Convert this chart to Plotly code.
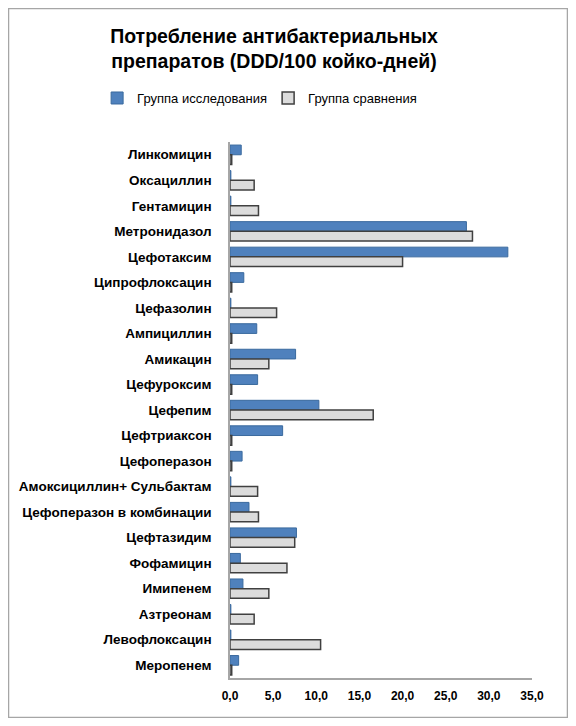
import plotly.graph_objs as go

drugs = ['Линкомицин', 'Оксациллин', 'Гентамицин', 'Метронидазол', 'Цефотаксим',
         'Ципрофлоксацин', 'Цефазолин', 'Ампициллин', 'Амикацин', 'Цефуроксим',
         'Цефепим', 'Цефтриаксон', 'Цефоперазон', 'Амоксициллин+ Сульбактам',
         'Цефоперазон в комбинации', 'Цефтазидим', 'Фофамицин', 'Имипенем',
         'Азтреонам', 'Левофлоксацин', 'Меропенем']

study = [1.3, 0.1, 0.1, 27.4, 32.2, 1.6, 0.1, 3.1, 7.6, 3.2, 10.3, 6.1, 1.4,
         0.1, 2.2, 7.7, 1.2, 1.5, 0.1, 0.1, 1.0]
control = [0.2, 2.8, 3.3, 28.1, 20.0, 0.2, 5.4, 0.2, 4.5, 0.2, 16.6, 0.2, 0.2,
           3.2, 3.3, 7.5, 6.6, 4.5, 2.8, 10.5, 0.2]

font = 'Liberation Sans'

trace1 = go.Bar(y=drugs, x=study, orientation='h',
                name='Группа исследования',
                marker={'color': '#4F81BD', 'line': {'color': '#3A6A9E', 'width': 1}})

trace2 = go.Bar(y=drugs, x=control, orientation='h',
                name='Группа сравнения',
                marker={'color': '#DCDCDC', 'line': {'color': '#404040', 'width': 1.5}})

# page has an 8px body margin, so figure is 560x710 and sits at 8..568 / 8..718
layout = go.Layout(
    width=560, height=710,
    paper_bgcolor='white', plot_bgcolor='white',
    separators=', ',
    font={'family': font, 'color': 'black'},
    title={'text': '<b>Потребление антибактериальных<br>препаратов (DDD/100 койко-дней)</b>',
           'x': 0.475, 'xanchor': 'center', 'y': 0.951, 'yanchor': 'top',
           'font': {'size': 19.5, 'family': font}},
    # x < 0 and y > 1 so plotly lets the legend use the full width in one row
    legend={'orientation': 'h', 'x': -0.44, 'xanchor': 'left', 'y': 1.082, 'yanchor': 'middle',
            'font': {'size': 13}, 'traceorder': 'normal', 'itemwidth': 30,
            'entrywidth': 126, 'entrywidthmode': 'pixels'},
    barmode='group', bargap=0.24, bargroupgap=0.0,
    margin={'l': 222, 'r': 36, 't': 134, 'b': 40, 'autoexpand': False},
    xaxis={'range': [0, 35], 'dtick': 5, 'tickformat': '.1f', 'showgrid': False,
           'showline': True, 'linecolor': '#A6A6A6', 'linewidth': 1.5,
           'ticks': '', 'ticklabelstandoff': 6, 'automargin': False,
           'tickfont': {'size': 12, 'family': font, 'weight': 'bold'},
           'zeroline': False},
    yaxis={'autorange': 'reversed', 'showgrid': False, 'showline': True,
           'linecolor': '#A6A6A6', 'linewidth': 1.5, 'ticks': '', 'ticklabelstandoff': 14,
           'automargin': False,
           'tickfont': {'size': 13.5, 'family': font, 'weight': 'bold'}},
    shapes=[{'type': 'rect', 'xref': 'paper', 'yref': 'paper', 'layer': 'above',
             'x0': -0.7334, 'x1': 1.1175, 'y0': -0.0737, 'y1': 1.2491,
             'line': {'color': '#A6A6A6', 'width': 1.5}}],
)

fig = go.Figure(data=[trace1, trace2], layout=layout)
fig.write_html('out.html')
